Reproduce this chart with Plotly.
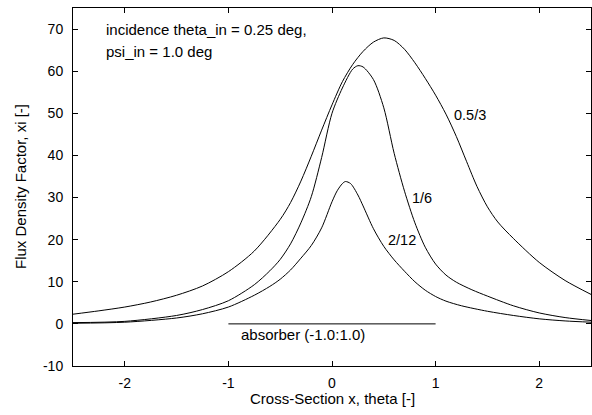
import plotly.graph_objects as go

# --- data ---
x_a = [-2.5, -2.25, -2.0, -1.75, -1.5, -1.25, -1.0, -0.75, -0.5, -0.4, -0.3, -0.2, -0.1, 0.0, 0.1, 0.2, 0.3, 0.4, 0.5, 0.6, 0.7, 0.8, 0.9, 1.0, 1.1, 1.2, 1.3, 1.4, 1.5, 1.6, 1.75, 2.0, 2.25, 2.5]
y_a = [2.3, 3.1, 4.0, 5.2, 6.8, 9.0, 12.4, 17.3, 24.8, 28.8, 33.9, 39.8, 46.0, 52.0, 57.5, 61.6, 64.7, 66.9, 67.9, 67.3, 65.2, 62.0, 58.3, 54.3, 49.8, 44.5, 38.5, 32.6, 27.8, 24.2, 20.3, 14.6, 10.3, 7.0]

x_b = [-2.5, -2.0, -1.5, -1.25, -1.0, -0.75, -0.6, -0.5, -0.4, -0.3, -0.2, -0.1, 0.0, 0.1, 0.2, 0.25, 0.3, 0.4, 0.5, 0.6, 0.7, 0.8, 0.9, 1.0, 1.1, 1.2, 1.35, 1.5, 1.75, 2.0, 2.25, 2.5]
y_b = [0.3, 0.6, 2.0, 3.4, 5.5, 9.3, 12.6, 15.3, 19.0, 24.0, 30.2, 39.5, 50.0, 56.0, 60.5, 61.3, 61.0, 58.0, 51.3, 40.5, 31.5, 24.0, 18.2, 14.2, 11.6, 9.9, 8.1, 6.6, 4.3, 2.6, 1.5, 0.8]

x_c = [-2.5, -2.0, -1.5, -1.25, -1.0, -0.75, -0.6, -0.5, -0.4, -0.3, -0.2, -0.1, 0.0, 0.05, 0.1, 0.13, 0.18, 0.25, 0.3, 0.4, 0.5, 0.6, 0.7, 0.8, 0.9, 1.0, 1.1, 1.25, 1.5, 1.75, 2.0, 2.25, 2.5]
y_c = [0.15, 0.4, 1.4, 2.4, 4.0, 6.8, 8.9, 10.6, 12.8, 15.6, 18.6, 22.8, 29.0, 31.6, 33.3, 33.8, 33.3, 30.6, 28.0, 22.6, 18.4, 15.2, 12.5, 10.0, 8.0, 6.5, 5.4, 4.3, 3.0, 2.0, 1.2, 0.7, 0.4]

absorber_x = [-1.0, 1.0]
absorber_y = [0.0, 0.0]

x_ticks = [-2, -1, 0, 1, 2]
y_ticks = [-10, 0, 10, 20, 30, 40, 50, 60, 70]

curve_labels = ["0.5/3", "1/6", "2/12"]
label_pos = [(1.158, 49.5), (0.754, 30.0), (0.52, 20.0)]

info_lines = ["incidence theta_in = 0.25 deg,", "psi_in = 1.0 deg"]
info_pos = [(-2.2, 70.0), (-2.2, 64.7)]

FONT = "Liberation Sans, Arial, Helvetica, sans-serif"
TXT = dict(size=15, color="black", family=FONT)

fig = go.Figure()
for xs, ys in [(x_a, y_a), (x_b, y_b), (x_c, y_c)]:
    fig.add_trace(go.Scatter(x=xs, y=ys, mode="lines",
                             line=dict(color="black", width=1, shape="spline", smoothing=0.8),
                             showlegend=False, hoverinfo="skip"))
fig.add_trace(go.Scatter(x=absorber_x, y=absorber_y, mode="lines",
                         line=dict(color="black", width=1), showlegend=False, hoverinfo="skip"))

for txt, (lx, ly) in zip(curve_labels, label_pos):
    fig.add_annotation(x=lx, y=ly, text=txt, showarrow=False, xanchor="left",
                       yanchor="middle", font=dict(size=14.5, color="black", family=FONT))

for txt, (lx, ly) in zip(info_lines, info_pos):
    fig.add_annotation(x=lx, y=ly, text=txt, showarrow=False, xanchor="left",
                       yanchor="middle", font=TXT)

fig.add_annotation(x=-0.896, y=-2.6, text="absorber (-1.0:1.0)", showarrow=False,
                   xanchor="left", yanchor="middle", font=TXT)

# axis titles
fig.add_annotation(xref="paper", yref="paper", x=0.5, y=0, yshift=-32, text="Cross-Section x, theta [-]",
                   showarrow=False, xanchor="center", yanchor="middle", font=TXT)
fig.add_annotation(xref="paper", yref="paper", x=0, y=0.5, xshift=-53, text="Flux Density Factor, xi [-]",
                   textangle=-90, showarrow=False, xanchor="center", yanchor="middle", font=TXT)

fig.update_layout(
    width=592, height=415,
    margin=dict(l=73, r=1, t=8, b=49, autoexpand=False),
    paper_bgcolor="white", plot_bgcolor="white",
    font=dict(family=FONT, size=14, color="black"),
)
fig.update_xaxes(range=[-2.5, 2.5], tickvals=x_ticks, ticktext=[str(v) for v in x_ticks],
                 ticks="inside", ticklen=5, tickcolor="black", showline=True, linecolor="black",
                 linewidth=1, mirror="ticks", showgrid=False, zeroline=False, automargin=False,
                 ticklabelstandoff=4)
fig.update_yaxes(range=[-10, 75], tickvals=y_ticks, ticktext=[str(v) for v in y_ticks],
                 ticks="inside", ticklen=5, tickcolor="black", showline=True, linecolor="black",
                 linewidth=1, mirror="ticks", showgrid=False, zeroline=False, automargin=False,
                 ticklabelstandoff=6)

fig.write_html("out.html", config={"displayModeBar": False},
               post_script="document.body.style.margin='0';")
